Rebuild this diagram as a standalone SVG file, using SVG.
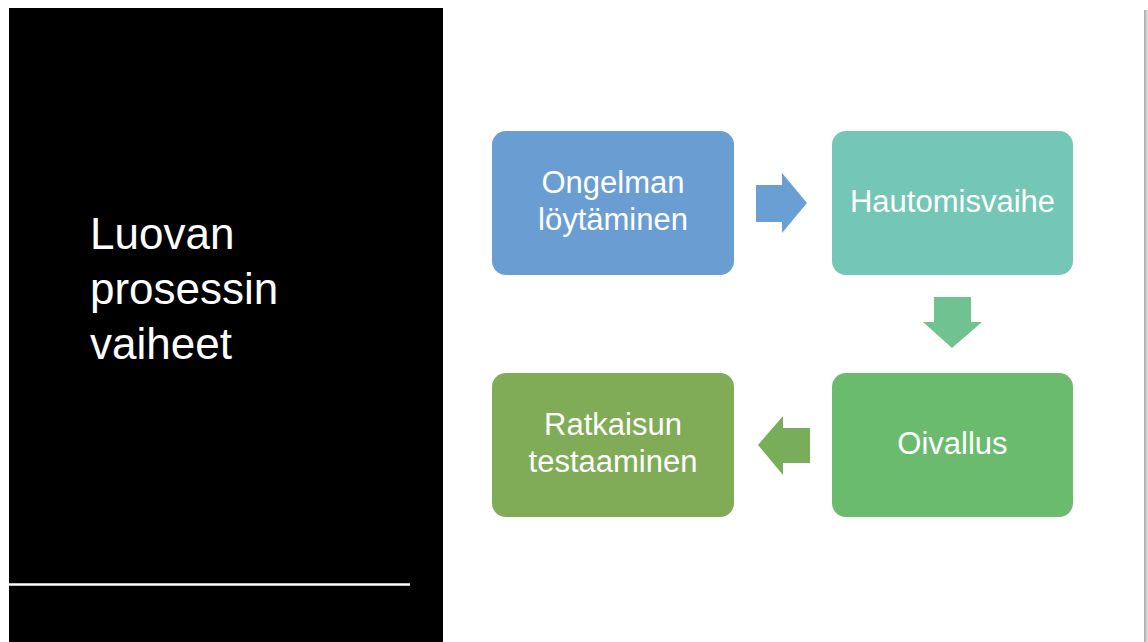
<svg xmlns="http://www.w3.org/2000/svg" width="1148" height="642" viewBox="0 0 1148 642">
<defs>
<linearGradient id="shadow" x1="0" y1="0" x2="1" y2="0">
<stop offset="0" stop-color="#a8a8a8"/>
<stop offset="1" stop-color="#e6e6e6"/>
</linearGradient>
</defs>
<style>
.box{stroke:none}
.lbl{font-family:"Liberation Sans",Arial,sans-serif;font-size:31px;fill:#ffffff;text-anchor:middle}
.title{font-family:"Liberation Sans",Arial,sans-serif;font-size:44px;fill:#ffffff}
</style>
<rect x="0" y="0" width="1148" height="642" fill="#ffffff"/>
<rect x="1144" y="10" width="4" height="632" fill="url(#shadow)"/>
<g id="panel">
<rect x="9" y="8" width="434" height="634" fill="#000000"/>
<line x1="9" y1="584.5" x2="410" y2="584.5" stroke="#ffffff" stroke-width="2.5"/>
<text class="title" x="90" y="249">Luovan</text>
<text class="title" x="90" y="304">prosessin</text>
<text class="title" x="90" y="359">vaiheet</text>
</g>
<g id="connectors">
<polygon points="756,185 782,185 782,173 807,203 782,233 782,222 756,222" fill="#6a9fd3"/>
<polygon points="934,297 971,297 971,322 982,322 952,348 923,322 934,322" fill="#70c290"/>
<polygon points="810,428 783,428 783,416 758,445 783,475 783,463 810,463" fill="#78ae59"/>
</g>
<g id="node-ongelman">
<rect class="box" x="492" y="131" width="242" height="144" rx="14" fill="#6a9ed3"/>
<text class="lbl" x="613" y="193">Ongelman</text>
<text class="lbl" x="613" y="230">löytäminen</text>
</g>
<g id="node-hautomisvaihe">
<rect class="box" x="832" y="131" width="241" height="144" rx="14" fill="#74c6b7"/>
<text class="lbl" x="952.5" y="212">Hautomisvaihe</text>
</g>
<g id="node-oivallus">
<rect class="box" x="832" y="373" width="241" height="144" rx="14" fill="#6bbb6f"/>
<text class="lbl" x="952.5" y="454">Oivallus</text>
</g>
<g id="node-ratkaisun">
<rect class="box" x="492" y="373" width="242" height="144" rx="14" fill="#80ac58"/>
<text class="lbl" x="613" y="435">Ratkaisun</text>
<text class="lbl" x="613" y="472">testaaminen</text>
</g>
</svg>
